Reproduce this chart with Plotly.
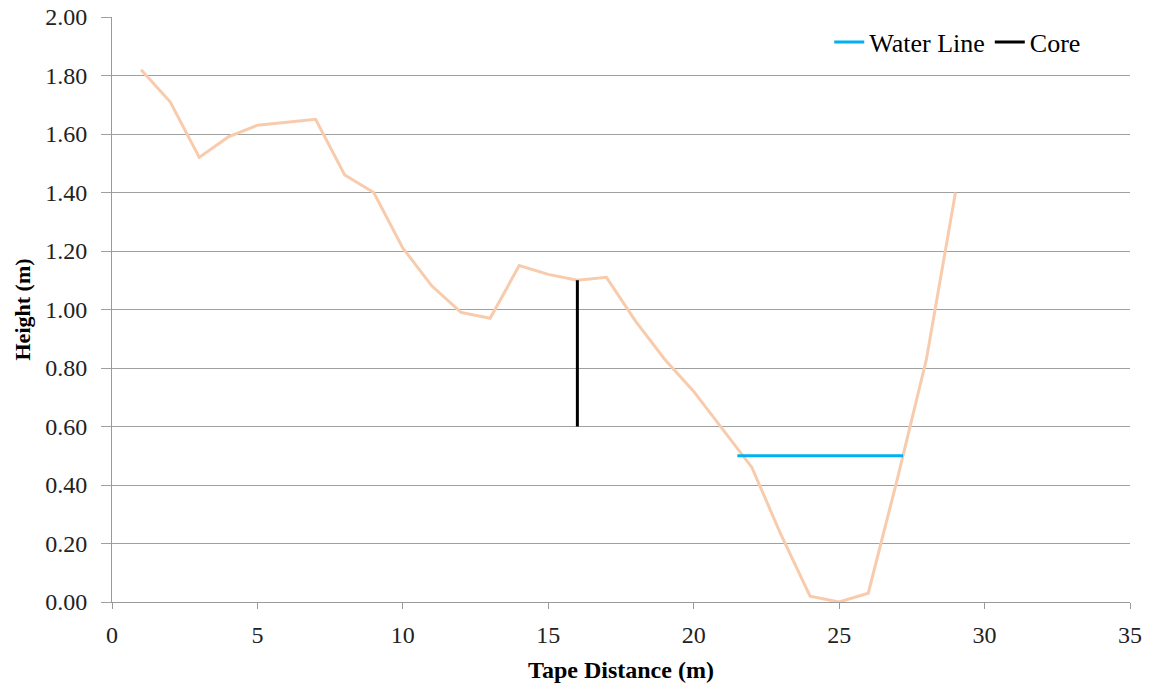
import plotly.graph_objects as go

distance = list(range(1, 30))
height = [1.82, 1.71, 1.52, 1.59, 1.63, 1.64, 1.65, 1.46, 1.40, 1.21,
          1.08, 0.99, 0.97, 1.15, 1.12, 1.10, 1.11, 0.96, 0.83, 0.72,
          0.59, 0.46, 0.23, 0.02, 0.00, 0.03, 0.42, 0.83, 1.40]

water_x = [21.5, 27.2]
water_y = [0.50, 0.50]

core_x = [16, 16]
core_y = [0.60, 1.10]

fig = go.Figure()
fig.add_trace(go.Scatter(x=distance, y=height, mode="lines",
                         line=dict(color="#F8CBAD", width=3),
                         showlegend=False, name="Profile"))
fig.add_trace(go.Scatter(x=water_x, y=water_y, mode="lines",
                         line=dict(color="#00B0F0", width=3), name="Water Line"))
fig.add_trace(go.Scatter(x=core_x, y=core_y, mode="lines",
                         line=dict(color="#000000", width=3), name="Core"))

font_family = "Liberation Serif"
fig.update_layout(
    width=1155, height=687,
    margin=dict(l=112, r=25, t=17, b=85),
    paper_bgcolor="white", plot_bgcolor="white",
    font=dict(family=font_family, size=22, color="#222222"),
    legend=dict(orientation="h", x=0.957, xanchor="right", y=0.957, yanchor="middle",
                bgcolor="rgba(0,0,0,0)", font=dict(size=26, family=font_family, color="#000000"),
                itemwidth=30, tracegroupgap=0),
    xaxis=dict(range=[0, 35], dtick=5, tick0=0, showgrid=False, automargin=False,
               showline=True, linecolor="#9A9A9A", linewidth=1,
               ticks="outside", ticklen=6, tickcolor="#9A9A9A",
               zeroline=False, ticklabelstandoff=5,
               tickfont=dict(size=24, family=font_family, color="#222222"),
               title=dict(text="<b>Tape Distance (m)</b>", font=dict(size=24, family=font_family, color="#000000"),
                          standoff=14)),
    yaxis=dict(range=[0, 2.0], dtick=0.2, tick0=0, tickformat=".2f", automargin=False,
               showgrid=True, gridcolor="#A0A0A0", gridwidth=1.3,
               showline=True, linecolor="#9A9A9A", linewidth=1,
               ticks="outside", ticklen=10, tickcolor="#A0A0A0",
               zeroline=False, ticklabelstandoff=9,
               tickfont=dict(size=24, family=font_family, color="#222222"),
               title=dict(text="<b>Height (m)</b>", font=dict(size=22, family=font_family, color="#000000"),
                          standoff=8)),
)

fig.write_html("out.html", config={"displayModeBar": False},
               post_script="document.body.style.margin='0';")
